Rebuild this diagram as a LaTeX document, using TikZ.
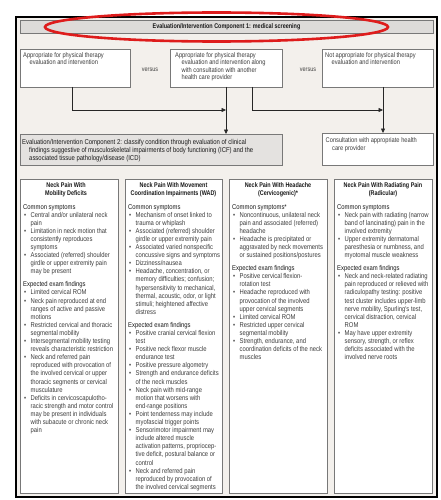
\documentclass[tikz,border=0pt]{standalone}
\usepackage{fontspec}
\usetikzlibrary{arrows.meta}
\newfontfamily\cond[FakeStretch=0.84]{Liberation Sans}
\newfontfamily\condt[FakeStretch=0.8]{Liberation Sans}
\definecolor{framefill}{RGB}{243,240,236}
\definecolor{barfill}{RGB}{221,219,217}
\definecolor{compfill}{RGB}{228,226,224}
\definecolor{boxline}{RGB}{120,120,120}
\definecolor{txt}{RGB}{60,60,60}
\definecolor{hdc}{RGB}{25,25,25}
\definecolor{ovalred}{RGB}{222,28,28}
\newcommand{\BI}{\makebox[7.5pt][l]{\hspace{1pt}\textbullet}}
\newcommand{\CI}{\hspace*{7.5pt}}
\newcommand{\hd}[1]{{\color{hdc}#1}}
\begin{document}
\begin{tikzpicture}[x=1pt,y=-1pt,
  panel/.style={draw=boxline, line width=0.7pt, fill=white, anchor=north west, inner sep=0pt, outer sep=0pt},
  body/.style={font=\cond\fontsize{7}{8.1}\selectfont, text=txt, align=left, inner sep=0pt, anchor=north west},
  boxtext/.style={font=\cond\fontsize{6.8}{7.5}\selectfont, text=txt, align=left, inner sep=0pt, anchor=north west},
  comptext/.style={font=\cond\fontsize{7.1}{8.3}\selectfont, text=hdc, align=left, inner sep=0pt, anchor=north west},
  coltitle/.style={font=\condt\bfseries\fontsize{6.8}{8}\selectfont, text=hdc, align=center, inner sep=0pt, anchor=north},
  vs/.style={font=\cond\fontsize{6.5}{7.5}\selectfont, text=txt, inner sep=0pt},
  arr/.style={draw=black!85, line width=0.6pt, -{Triangle[length=4.5pt,width=4pt]}}]
\useasboundingbox (0,0) rectangle (441,500);

% outer frame
\node[draw=black, line width=2.4pt, fill=framefill, minimum width=421pt, minimum height=480pt, anchor=north west, inner sep=0pt] (frame) at (15,16) {};

% title bar
\node[panel, fill=barfill, minimum width=413pt, minimum height=13pt, font=\condt\bfseries\fontsize{6.8}{8}\selectfont, text=hdc] (bar) at (20,20) {Evaluation/Intervention Component 1: medical screening};

% first row boxes
\node[panel, minimum width=110pt, minimum height=38pt] (b1) at (20,49) {};
\node[panel, minimum width=112pt, minimum height=38pt] (b2) at (170,49) {};
\node[panel, minimum width=111pt, minimum height=38pt] (b3) at (322,49) {};

\node[boxtext] (t1) at (23,52) {Appropriate for physical therapy\\ \hspace*{6.5pt}evaluation and intervention};
\node[boxtext] (t2) at (175,52) {Appropriate for physical therapy\\ \hspace*{6.5pt}evaluation and intervention along\\ \hspace*{6.5pt}with consultation with another\\ \hspace*{6.5pt}health care provider};
\node[boxtext] (t3) at (325,52) {Not appropriate for physical therapy\\ \hspace*{6.5pt}evaluation and intervention};

\node[vs] (vs1) at (150,70) {versus};
\node[vs] (vs2) at (308,70) {versus};

% second row boxes
\node[panel, fill=compfill, minimum width=262pt, minimum height=31pt] (c2) at (20,134) {};
\node[panel, minimum width=111pt, minimum height=32pt] (cons) at (322,133) {};

\node[comptext] (c2t) at (22,139) {Evaluation/Intervention Component 2: classify condition through evaluation of clinical\\ \hspace*{7pt}findings suggestive of musculoskeletal impairments of body functioning (ICF) and the\\ \hspace*{7pt}associated tissue pathology/disease (ICD)};
\node[boxtext] (const) at (325.5,137.5) {Consultation with appropriate health\\ \hspace*{6.5pt}care provider};

% connectors
\coordinate (j1) at (226,110);
\coordinate (j2) at (383,110);
\draw[arr] ([xshift=-3pt]b1.south) |- (j1);
\draw[arr] (b2.south) -- (b2.south |- c2.north);
\draw[arr] ([xshift=26pt]b2.south) |- (j2);
\draw[arr] ([xshift=5.5pt]b3.south) -- ([xshift=5.5pt]b3.south |- cons.north);

% columns
\node[panel, minimum width=98pt, minimum height=314pt] (k1) at (20,179) {};
\node[panel, minimum width=97pt, minimum height=314pt] (k2) at (125,179) {};
\node[panel, minimum width=98pt, minimum height=314pt] (k3) at (229,179) {};
\node[panel, minimum width=98pt, minimum height=314pt] (k4) at (334,179) {};

\node[coltitle] (h1) at (66,182) {Neck Pain With\\Mobility Deficits};
\node[coltitle] (h2) at (173.5,182) {Neck Pain With Movement\\Coordination Impairments (WAD)};
\node[coltitle] (h3) at (278,182) {Neck Pain With Headache\\(Cervicogenic)*};
\node[coltitle] (h4) at (383,182) {Neck Pain With Radiating Pain\\(Radicular)};

\node[body] (l1) at (23,204) {\hd{Common symptoms}\\
\BI Central and/or unilateral neck\\
\CI pain\\
\BI Limitation in neck motion that\\
\CI consistently reproduces\\
\CI symptoms\\
\BI Associated (referred) shoulder\\
\CI girdle or upper extremity pain\\
\CI may be present\\[4.9pt]
\hd{Expected exam findings}\\
\BI Limited cervical ROM\\
\BI Neck pain reproduced at end\\
\CI ranges of active and passive\\
\CI motions\\
\BI Restricted cervical and thoracic\\
\CI segmental mobility\\
\BI Intersegmental mobility testing\\
\CI reveals characteristic restriction\\
\BI Neck and referred pain\\
\CI reproduced with provocation of\\
\CI the involved cervical or upper\\
\CI thoracic segments or cervical\\
\CI musculature\\
\BI Deficits in cervicoscapulotho-\\
\CI racic strength and motor control\\
\CI may be present in individuals\\
\CI with subacute or chronic neck\\
\CI pain};

\node[body] (l2) at (128,204) {\hd{Common symptoms}\\
\BI Mechanism of onset linked to\\
\CI trauma or whiplash\\
\BI Associated (referred) shoulder\\
\CI girdle or upper extremity pain\\
\BI Associated varied nonspecific\\
\CI concussive signs and symptoms\\
\BI Dizziness/nausea\\
\BI Headache, concentration, or\\
\CI memory difficulties; confusion;\\
\CI hypersensitivity to mechanical,\\
\CI thermal, acoustic, odor, or light\\
\CI stimuli; heightened affective\\
\CI distress\\[4.9pt]
\hd{Expected exam findings}\\
\BI Positive cranial cervical flexion\\
\CI test\\
\BI Positive neck flexor muscle\\
\CI endurance test\\
\BI Positive pressure algometry\\
\BI Strength and endurance deficits\\
\CI of the neck muscles\\
\BI Neck pain with mid-range\\
\CI motion that worsens with\\
\CI end-range positions\\
\BI Point tenderness may include\\
\CI myofascial trigger points\\
\BI Sensorimotor impairment may\\
\CI include altered muscle\\
\CI activation patterns, propriocep-\\
\CI tive deficit, postural balance or\\
\CI control\\
\BI Neck and referred pain\\
\CI reproduced by provocation of\\
\CI the involved cervical segments};

\node[body] (l3) at (232,204) {\hd{Common symptoms*}\\
\BI Noncontinuous, unilateral neck\\
\CI pain and associated (referred)\\
\CI headache\\
\BI Headache is precipitated or\\
\CI aggravated by neck movements\\
\CI or sustained positions/postures\\[4.9pt]
\hd{Expected exam findings}\\
\BI Positive cervical flexion-\\
\CI rotation test\\
\BI Headache reproduced with\\
\CI provocation of the involved\\
\CI upper cervical segments\\
\BI Limited cervical ROM\\
\BI Restricted upper cervical\\
\CI segmental mobility\\
\BI Strength, endurance, and\\
\CI coordination deficits of the neck\\
\CI muscles};

\node[body] (l4) at (337,204) {\hd{Common symptoms}\\
\BI Neck pain with radiating (narrow\\
\CI band of lancinating) pain in the\\
\CI involved extremity\\
\BI Upper extremity dermatomal\\
\CI paresthesia or numbness, and\\
\CI myotomal muscle weakness\\[4.9pt]
\hd{Expected exam findings}\\
\BI Neck and neck-related radiating\\
\CI pain reproduced or relieved with\\
\CI radiculopathy testing: positive\\
\CI test cluster includes upper-limb\\
\CI nerve mobility, Spurling's test,\\
\CI cervical distraction, cervical\\
\CI ROM\\
\BI May have upper extremity\\
\CI sensory, strength, or reflex\\
\CI deficits associated with the\\
\CI involved nerve roots};

% red oval annotation
\draw[ovalred, line width=2.6pt] (216.5,27) ellipse [x radius=171.5pt, y radius=14.5pt];
\end{tikzpicture}
\end{document}
